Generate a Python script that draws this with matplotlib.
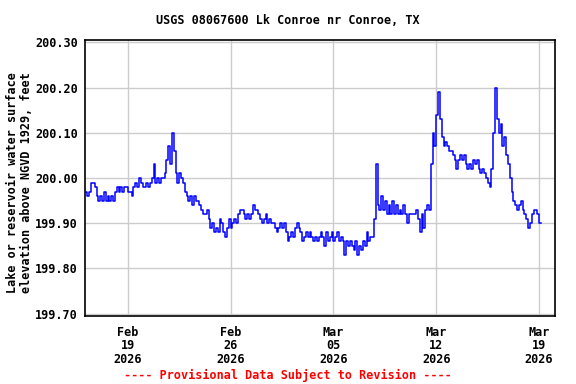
# USGS style lake level plot, Lk Conroe, 3-hourly readings
import pandas as pd
import matplotlib
matplotlib.use("Agg")
import matplotlib.pyplot as plt
import matplotlib.dates as mdates

# gage height, hundredths of a foot above 199.00 (100 = 200.00)
# one row per day, 03:00 .. 24:00, starting Feb 16 2026
levels_hundredths = [
    97, 96, 97, 99, 99, 98, 96, 95,          # Feb 16
    96, 95, 97, 95, 96, 95, 96, 95,          # Feb 17
    97, 98, 97, 98, 97, 98, 98, 97,          # Feb 18
    97, 96, 98, 99, 98, 100, 99, 98,         # Feb 19
    98, 99, 98, 99, 100, 103, 99, 100,       # Feb 20
    99, 100, 100, 101, 104, 107, 103, 110,   # Feb 21
    106, 101, 99, 101, 100, 99, 97, 96,      # Feb 22
    95, 96, 94, 96, 95, 95, 94, 93,          # Feb 23
    92, 92, 93, 91, 89, 90, 88, 89,          # Feb 24
    88, 91, 90, 88, 87, 89, 91, 89,          # Feb 25
    90, 91, 90, 92, 93, 93, 92, 91,          # Feb 26
    92, 91, 92, 94, 93, 93, 92, 91,          # Feb 27
    90, 91, 92, 90, 91, 90, 90, 89,          # Feb 28
    88, 89, 90, 89, 90, 88, 86, 87,          # Mar 01
    88, 87, 89, 90, 89, 88, 86, 87,          # Mar 02
    88, 87, 88, 87, 86, 87, 86, 87,          # Mar 03
    88, 87, 85, 88, 86, 87, 88, 86,          # Mar 04
    87, 88, 86, 87, 86, 83, 86, 85,          # Mar 05
    86, 85, 84, 86, 83, 85, 84, 86,          # Mar 06
    85, 88, 86, 87, 87, 91, 103, 94,         # Mar 07
    93, 96, 93, 95, 92, 94, 92, 95,          # Mar 08
    92, 94, 92, 93, 92, 94, 92, 90,          # Mar 09
    92, 92, 92, 92, 93, 91, 88, 92,          # Mar 10
    89, 93, 94, 93, 103, 110, 107, 114,      # Mar 11
    119, 113, 109, 107, 108, 107, 106, 106,  # Mar 12
    105, 104, 102, 104, 105, 104, 105, 103,  # Mar 13
    102, 103, 102, 104, 103, 104, 102, 101,  # Mar 14
    102, 101, 100, 99, 98, 102, 110, 120,    # Mar 15
    113, 110, 112, 107, 109, 105, 103, 100,  # Mar 16
    97, 95, 94, 93, 94, 95, 93, 92,          # Mar 17
    91, 89, 90, 92, 93, 93, 92, 90,          # Mar 18
    90,                                      # Mar 19
]

start_time = "2026-02-16 03:00"
tick_dates = ["2026-02-19", "2026-02-26", "2026-03-05", "2026-03-12", "2026-03-19"]
y_ticks = [199.70, 199.80, 199.90, 200.00, 200.10, 200.20, 200.30]

times = pd.date_range(start_time, periods=len(levels_hundredths), freq="3h")
elev = [199.0 + v / 100.0 for v in levels_hundredths]

font = "DejaVu Sans Mono"
fs = 8.5

fig = plt.figure(figsize=(5.76, 3.84), dpi=100)
ax = fig.add_axes([85 / 576, 1 - 316 / 384, 470 / 576, 276 / 384])

ax.plot(times, elev, color="#0000ff", lw=1.1, drawstyle="steps-post")

ax.set_xlim(pd.Timestamp("2026-02-16 02:00"), pd.Timestamp("2026-03-20 02:00"))
ax.set_ylim(199.695, 200.305)

ax.set_yticks(y_ticks)
ax.set_yticklabels([f"{t:.2f}" for t in y_ticks], fontfamily=font, fontweight="bold", fontsize=fs)
ax.set_xticks(pd.to_datetime(tick_dates))
ax.xaxis.set_major_formatter(mdates.DateFormatter("%b\n%d\n%Y"))
for lab in ax.get_xticklabels():
    lab.set_fontfamily(font)
    lab.set_fontweight("bold")
    lab.set_fontsize(fs)
    lab.set_linespacing(1.05)

ax.tick_params(axis="both", length=0)
ax.tick_params(axis="y", pad=5)
ax.tick_params(axis="x", pad=7)
ax.grid(True, color="#cccccc", lw=1.0)
ax.set_axisbelow(True)
for sp in ax.spines.values():
    sp.set_linewidth(1.2)
    sp.set_color("black")

fig.text(0.5, 1 - 20 / 384, "USGS 08067600 Lk Conroe nr Conroe, TX",
         ha="center", va="center", fontfamily=font, fontweight="bold", fontsize=fs)
fig.text(20 / 576, 1 - 183 / 384,
         "Lake or reservoir water surface\nelevation above NGVD 1929, feet",
         ha="center", va="center", rotation=90, multialignment="center",
         fontfamily=font, fontweight="bold", fontsize=fs, linespacing=1.1)
fig.text(0.5, 1 - 375 / 384, "---- Provisional Data Subject to Revision ----",
         ha="center", va="center", color="#ff0000",
         fontfamily=font, fontweight="bold", fontsize=fs)

fig.savefig("out.png", dpi=100)
